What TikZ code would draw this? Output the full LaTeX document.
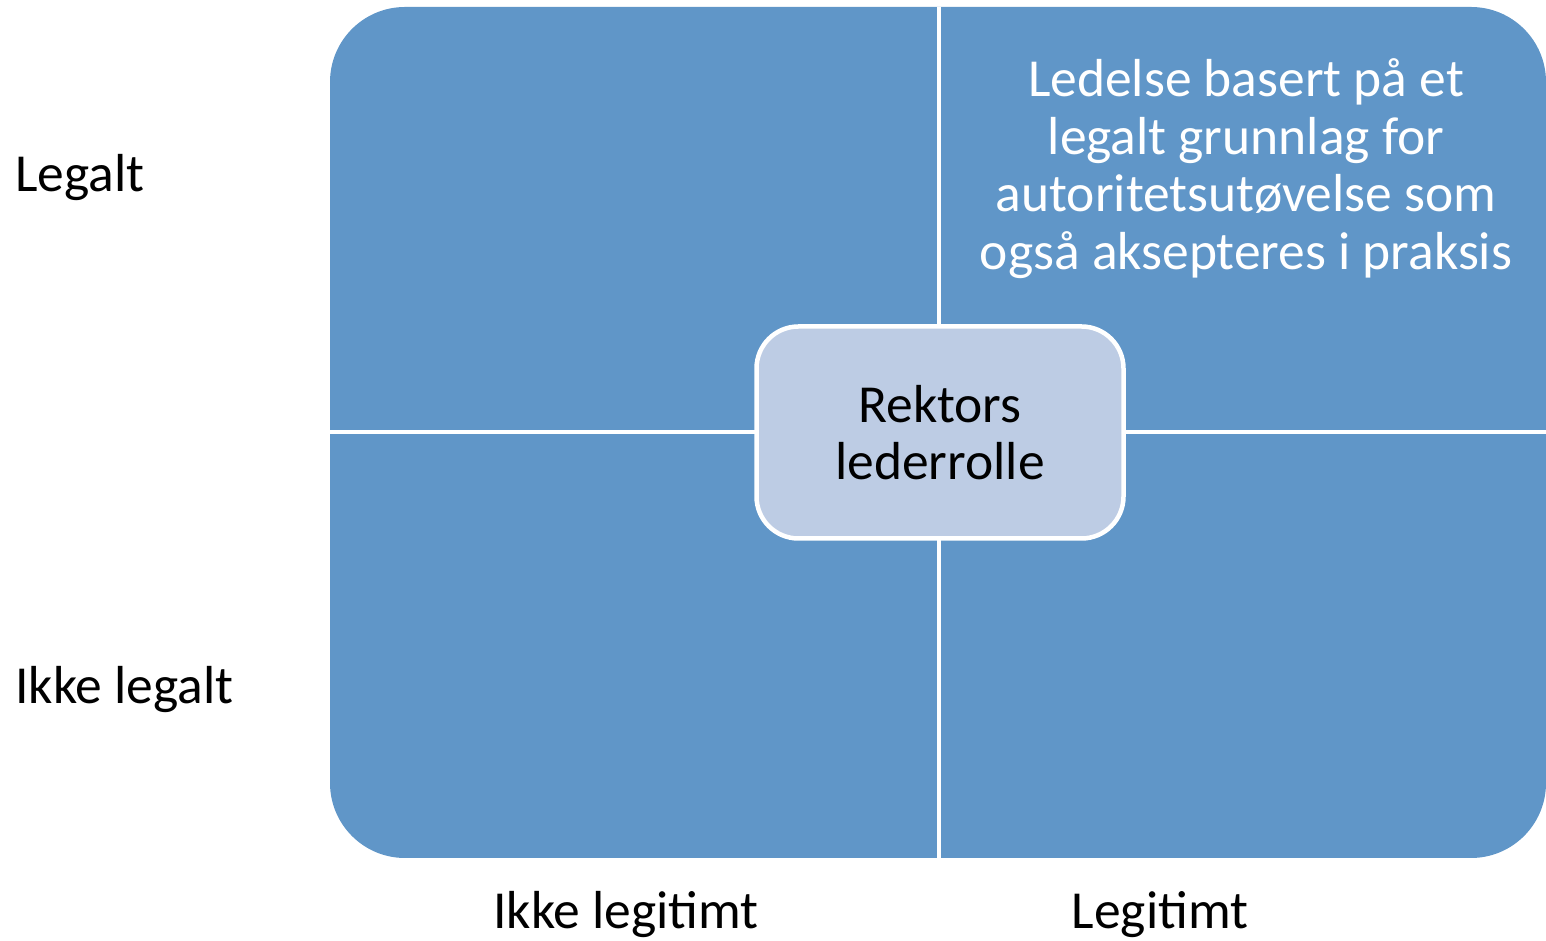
\documentclass[tikz,border=0pt]{standalone}
\usepackage{fontspec}
\setmainfont{Carlito}
\definecolor{quadblue}{RGB}{96,150,200}
\definecolor{centerblue}{RGB}{189,204,228}
\begin{document}
\begin{tikzpicture}[x=1pt,y=1pt,
  lbl/.style={font=\fontsize{53.5}{57.5}\selectfont, inner sep=0pt, text=black},
  divider/.style={draw=white, line width=4.5pt},
]
\useasboundingbox (0,0) rectangle (1546,941);
% the four-part grid as one rounded block
\node (grid) [fill=quadblue, rectangle, rounded corners=75pt, minimum width=1216pt, minimum height=851pt, inner sep=0pt] at (938,508.5) {};
\coordinate (vtop) at (939,934);
\coordinate (vbot) at (939,83);
\coordinate (hleft) at (330,509);
\coordinate (hright) at (1546,509);
\draw[divider] (vtop) -- (vbot);
\draw[divider] (hleft) -- (hright);
% centre box
\node (centre) [fill=centerblue, draw=white, line width=4.5pt, rectangle, rounded corners=42pt,
  minimum width=367pt, minimum height=212pt, inner sep=0pt, align=center,
  font=\fontsize{53.5}{57}\selectfont] at (940,508.5) {Rektors\\lederrolle};
% quadrant text
\node (trtext) [lbl, text=white, align=center, anchor=north] at (1246,882.5)
  {Ledelse basert på et\\legalt grunnlag for\\autoritetsutøvelse som\\også aksepteres i praksis};
% axis labels
\node (legalt) [lbl, anchor=base west] at (15,749) {Legalt};
\node (ikkelegalt) [lbl, anchor=base west] at (15,237) {Ikke legalt};
\node (ikkelegitimt) [lbl, anchor=base] at (626,12) {Ikke legitimt};
\node (legitimt) [lbl, anchor=base] at (1160,12) {Legitimt};
\end{tikzpicture}
\end{document}
